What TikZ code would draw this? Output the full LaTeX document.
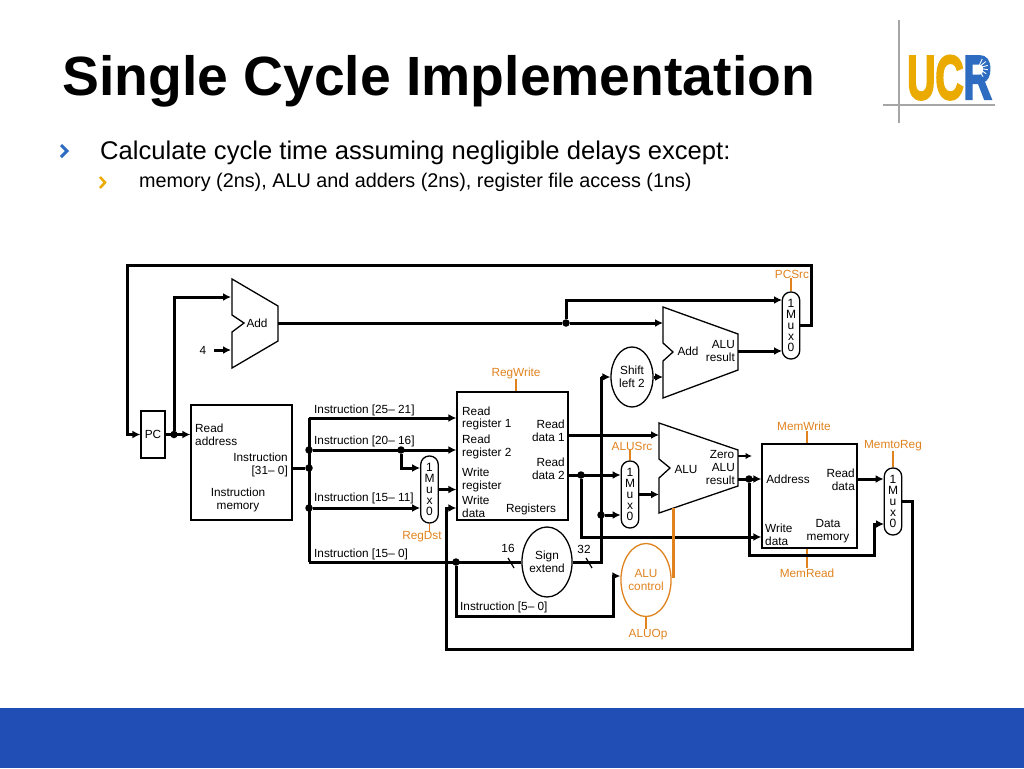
\documentclass[tikz,border=0pt]{standalone}
\usepackage{fontspec}
\setmainfont{Liberation Sans}
\newfontfamily\logofont[BoldFeatures={FakeBold=4}]{Liberation Sans}
\usepackage{graphicx}
\usetikzlibrary{arrows.meta,shapes.geometric}
\definecolor{ctrlorange}{RGB}{224,130,30}
\definecolor{ucrblue}{RGB}{45,108,192}
\definecolor{ucryellow}{RGB}{234,170,0}
\definecolor{barblue}{RGB}{32,78,180}
\tikzset{
	lbl/.style={inner sep=0pt, font=\fontsize{11.8}{12.8}\selectfont},
	box/.style={draw, line width=1.3pt, inner sep=0pt},
	mux/.style={draw, line width=1.3pt, rounded corners=8.5pt, minimum width=17.5pt, minimum height=67pt, inner sep=0pt, align=center, font=\fontsize{12}{11}\selectfont},
	oval/.style={draw, ellipse, line width=1.3pt, inner sep=0pt, align=center, font=\fontsize{11.8}{13.5}\selectfont},
	unit/.style={line width=1.3pt},
	wire/.style={line width=3pt, -{Latex[length=8pt,width=8pt]}},
	bus/.style={line width=3pt},
	thinwire/.style={line width=1.4pt, -{Latex[length=6.5pt,width=6.5pt]}},
	ctrl/.style={ctrlorange, line width=1.3pt},
	ctrllbl/.style={lbl, text=ctrlorange},
	dot/.style={circle, fill, inner sep=0pt, minimum size=7.5pt}
}
\begin{document}
\begin{tikzpicture}[x=1pt,y=-1pt]
	\useasboundingbox (0,0) rectangle (1024,768);
	\fill [barblue] (0,708) rectangle (1024,768);
	% slide heading
	\node [inner sep=0pt, anchor=base west, font=\fontsize{55.3}{55.3}\selectfont\bfseries] (title) at (62,95) {Single Cycle Implementation};
	\node [inner sep=0pt, anchor=base west, font=\fontsize{25.6}{25.6}\selectfont] (line1) at (100,159) {Calculate cycle time assuming negligible delays except:};
	\node [inner sep=0pt, anchor=base west, font=\fontsize{19.8}{19.8}\selectfont] (line2) at (139,187) {memory (2ns), ALU and adders (2ns), register file access (1ns)};
	\draw [ucrblue, line width=3pt] (61,145) -- (67,151) -- (61,157);
	\draw [ucryellow, line width=2.5pt] (100,177) -- (105,182.5) -- (100,188);
	\draw [gray!70, line width=1.5pt] (899,20) -- (899,123);
	\draw [gray!70, line width=1.5pt] (883,105) -- (995,105);
	\node [inner sep=0pt, anchor=base west, font=\fontsize{62}{62}\selectfont\logofont\bfseries] (logo) at (907,99) {\scalebox{.63}[1]{\textcolor{ucryellow}{UC}\textcolor{ucrblue}{R}}};
	\foreach \ray in {-65,-40,-15,10,35,60}
		\draw [white, line width=.9pt] (978,68) -- ++(\ray:10);
	% units
	\node [box, minimum width=24pt, minimum height=47pt, font=\fontsize{11.8}{12.8}\selectfont] (pc) at (153,434.5) {PC};
	\node [box, minimum width=101pt, minimum height=115pt] (imem) at (241.5,462.5) {};
	\node [box, minimum width=111pt, minimum height=128pt] (regs) at (512.5,456) {};
	\node [box, minimum width=95pt, minimum height=104pt] (dmem) at (809.5,496) {};
	\draw [unit] (232,279) -- (278,306) -- (278,341) -- (232,368) -- (232,332) -- (244,323) -- (232,315) -- cycle;
	\draw [unit] (663,307) -- (738,334) -- (738,370) -- (663,398) -- (663,361) -- (673,352) -- (663,343) -- cycle;
	\draw [unit] (659,423) -- (738,450) -- (738,486) -- (659,513) -- (659,478) -- (670,468) -- (659,459) -- cycle;
	\node [mux] (mux1) at (791,325.5) {1\\M\\u\\x\\0};
	\node [mux] (mux2) at (429.5,489.5) {1\\M\\u\\x\\0};
	\node [mux] (mux3) at (630,494.5) {1\\M\\u\\x\\0};
	\node [mux] (mux4) at (893,501.5) {1\\M\\u\\x\\0};
	\node [oval, minimum width=42pt, minimum height=60pt] (shift) at (632,377) {Shift\\left 2};
	\node [oval, minimum width=50pt, minimum height=70pt] (sign) at (547,562) {Sign\\extend};
	\node [oval, ctrl, text=ctrlorange, minimum width=41pt, minimum height=73pt] (aluc) at (646,580) {ALU\\control};
	% texts in the units
	\node [lbl, align=left, anchor=west] (t1) at (195,435) {Read\\address};
	\node [lbl, align=right, anchor=east] (t2) at (288,465) {Instruction\\{[31-- 0]}};
	\node [lbl, align=center] (t3) at (238,500) {Instruction\\memory};
	\node [lbl, align=left, anchor=west] (t4) at (462,418.5) {Read\\register 1};
	\node [lbl, align=left, anchor=west] (t5) at (462,447) {Read\\register 2};
	\node [lbl, align=left, anchor=west] (t6) at (462,480) {Write\\register};
	\node [lbl, align=left, anchor=west] (t7) at (462,507) {Write\\data};
	\node [lbl, align=right, anchor=east] (t8) at (565,431) {Read\\data 1};
	\node [lbl, align=right, anchor=east] (t9) at (565,469) {Read\\data 2};
	\node [lbl] (t10) at (531,509) {Registers};
	\node [lbl] (t11) at (257,323) {Add};
	\node [lbl] (t12) at (688,351) {Add};
	\node [lbl, align=right, anchor=east] (t13) at (735,351) {ALU\\result};
	\node [lbl] (t14) at (686,469) {ALU};
	\node [lbl] (t15) at (722,454) {Zero};
	\node [lbl, align=right, anchor=east] (t16) at (735,474) {ALU\\result};
	\node [lbl] (t17) at (788,479) {Address};
	\node [lbl, align=right, anchor=east] (t18) at (855,480) {Read\\data};
	\node [lbl, align=left, anchor=west] (t19) at (765,535) {Write\\data};
	\node [lbl, align=center] (t20) at (828,531) {Data\\memory};
	\node [lbl] (four) at (203,350) {4};
	\node [lbl, anchor=west] (i1) at (314,410) {Instruction [25-- 21]};
	\node [lbl, anchor=west] (i2) at (314,441.5) {Instruction [20-- 16]};
	\node [lbl, anchor=west] (i3) at (314,498.5) {Instruction [15-- 11]};
	\node [lbl, anchor=west] (i4) at (314,554.5) {Instruction [15-- 0]};
	\node [lbl, anchor=west] (i5) at (460,607) {Instruction [5-- 0]};
	\node [lbl] (n16) at (508,548) {16};
	\node [lbl] (n32) at (584,549) {32};
	% control signals
	\node [ctrllbl] (pcsrc) at (792,274) {PCSrc};
	\node [ctrllbl] (regwrite) at (516,373) {RegWrite};
	\node [ctrllbl] (regdst) at (422,537) {RegDst};
	\node [ctrllbl] (alusrc) at (632,446) {ALUSrc};
	\node [ctrllbl] (memwrite) at (804,426) {MemWrite};
	\node [ctrllbl] (memtoreg) at (893,446) {MemtoReg};
	\node [ctrllbl] (memread) at (807,573) {MemRead};
	\node [ctrllbl] (aluop) at (648,635) {ALUOp};
	\draw [ctrl] (pcsrc.south -| mux1) -- (mux1.north);
	\draw [ctrl] (regwrite.south) -- (regwrite |- regs.north);
	\draw [ctrl] (mux2.south) -- (regdst.north -| mux2);
	\draw [ctrl] (alusrc.south -| mux3) -- (mux3.north);
	\draw [ctrl] (memread |- memwrite.south) -- (memread |- dmem.north);
	\draw [ctrl] (memtoreg.south) -- (mux4.north);
	\draw [ctrl] (memread |- dmem.south) -- (memread.north);
	\draw [ctrl] (aluc.south) -- (aluop.north -| aluc);
	% junctions
	\node [dot] (jpc) at (174,434.5) {};
	\node [dot] (jadd) at (566,323) {};
	\node [dot] (j31) at (309,468) {};
	\node [dot] (j20) at (309,450) {};
	\node [dot] (j15) at (309,508) {};
	\node [dot] (jmux) at (401,450) {};
	\node [dot] (jlow) at (456,562) {};
	\node [dot] (jrd) at (581,475) {};
	\node [dot] (jext) at (601,515) {};
	\node [dot] (jres) at (749,479) {};
	\coordinate (addout) at (278,323);
	\coordinate (addtop) at (231,297);
	\coordinate (addlow) at (231,350);
	\coordinate (addb) at (663,323);
	\coordinate (muxa) at (782,300);
	\coordinate (muxb) at (782,351);
	\coordinate (add2out) at (738,351);
	\coordinate (loopr) at (811,265);
	\coordinate (loopl) at (127,265);
	\coordinate (top) at (309,418);
	\coordinate (low) at (309,562);
	\coordinate (extup) at (601,377);
	\coordinate (ctrlin) at (613,576);
	\coordinate (ctrlb) at (456,616);
	\coordinate (wbl) at (446,649);
	\coordinate (wbr) at (912,649);
	\coordinate (wbin) at (446,508);
	\coordinate (rddown) at (581,537);
	\coordinate (resdown) at (874,555);
	\coordinate (mux4in) at (884,524);
	\coordinate (aluout) at (738,479);
	\coordinate (zero) at (738,456);
	\coordinate (zeroend) at (752,456);
	\coordinate (alufoot) at (673,508);
	% wires
	\draw [wire] (mux1.east) -| (loopr) -- (loopl) |- (pc.west);
	\draw [wire] (pc.east) -- (imem.west |- pc.east);
	\draw [wire] (jpc) |- (addtop);
	\draw [wire] (four.east) ++(8,0) -- (addlow);
	\draw [bus] (addout) -- (jadd);
	\draw [wire] (jadd) -- (addb);
	\draw [wire] (jadd) |- (muxa);
	\draw [wire] (add2out) -- (muxb);
	\draw [wire] (shift.east) -- (shift.east -| addb);
	\draw [bus] (imem.east |- j31) -- (j31);
	\draw [bus] (top) -- (low);
	\draw [wire] (top) -- (regs.west |- top);
	\draw [wire] (j20) -- (regs.west |- j20);
	\draw [wire] (jmux) |- (mux2.west |- j31);
	\draw [wire] (j15) -- (mux2.west |- j15);
	\draw [wire] (mux2.east) -- (regs.west |- mux2.east);
	\draw [bus] (low) -- (sign.west);
	\draw [wire] (jlow) |- (ctrlb) -| (ctrlin) -- (aluc.west |- ctrlin);
	\draw [wire] (mux4.east) -| (wbr) -- (wbl) |- (regs.west |- wbin);
	\draw [wire] (regs.east |- 0,435) -- (659,435);
	\draw [wire] (regs.east |- jrd) -- (mux3.west |- jrd);
	\draw [wire] (jrd) |- (dmem.west |- rddown);
	\draw [wire] (mux3.east) -- (659,494.5);
	\draw [bus] (sign.east) -| (extup);
	\draw [wire] (extup) -- (shift.west);
	\draw [wire] (jext) -- (mux3.west |- jext);
	\draw [thinwire] (zero) -- (zeroend);
	\draw [wire] (aluout) -- (dmem.west |- aluout);
	\draw [wire] (jres) |- (resdown) |- (mux4in);
	\draw [wire] (dmem.east |- jres) -- (mux4.west |- jres);
	\draw [line width=3pt, ctrlorange] (aluc.east |- ctrlin) -| (alufoot);
	\draw [line width=1.2pt] (508,558) -- (514,568);
	\draw [line width=1.2pt] (586,558) -- (592,568);
\end{tikzpicture}
\end{document}
